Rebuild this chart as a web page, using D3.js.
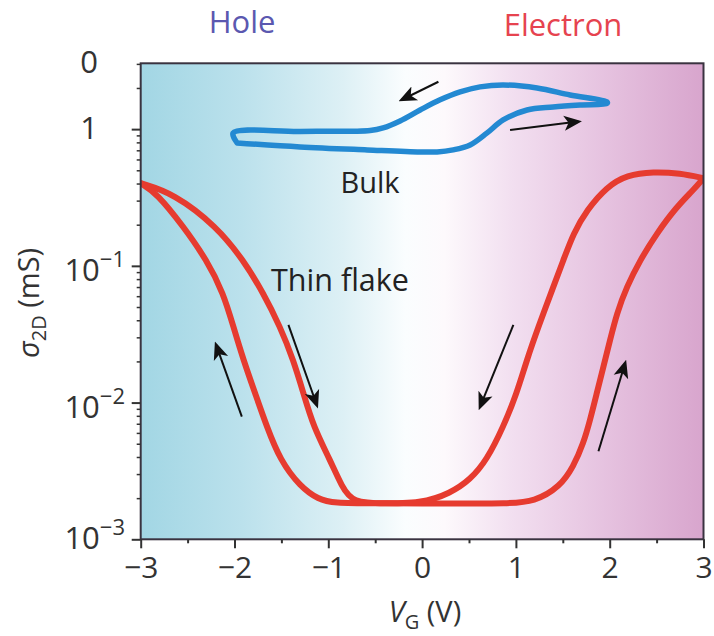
<!DOCTYPE html>
<html>
<head>
<meta charset="utf-8">
<script src="https://cdn.jsdelivr.net/npm/d3@7"></script>
<style>
  html, body { margin: 0; padding: 0; background: #ffffff; }
  svg { display: block; }
  text { font-family: "Open Sans", "Noto Sans", sans-serif; }
</style>
</head>
<body>
<svg id="chart" width="714" height="636"></svg>
<script>
// Gate voltage sweep of the thin flake, -3 V -> +3 V (forward)
const flakeForwardV = [-3.000, -2.651, -2.189, -1.905, -1.692, -1.514, -1.372, -1.265, -1.159, -0.981, -0.856, -0.740,
  -0.400, 0.000, 0.400, 0.900, 1.200, 1.471, 1.613, 1.720, 1.791, 1.862, 1.933, 2.004, 2.076, 2.182, 2.324, 2.502, 2.715, 2.893, 3.000];
const flakeForwardS = [0.402, 0.340, 0.194, 0.110, 0.0631, 0.0359, 0.0205, 0.0117, 0.00667, 0.00380, 0.00243, 0.00185,
  0.00183, 0.00183, 0.00183, 0.00183, 0.00188, 0.00243, 0.00340, 0.00504, 0.00746, 0.0117, 0.0183, 0.0287, 0.0450, 0.0705, 0.110, 0.173, 0.271, 0.359, 0.438];
// Reverse sweep, +3 V -> -3 V
const flakeReverseV = [3.000, 2.751, 2.466, 2.182, 1.969, 1.756, 1.613, 1.506, 1.400, 1.240, 1.116, 1.010, 0.867, 0.690, 0.512, 0.299,
  0.000, -0.500, -0.950, -1.100, -1.301, -1.514, -1.656, -1.780, -1.905, -2.012, -2.118, -2.295, -2.545, -2.829, -3.000];
const flakeReverseS = [0.438, 0.475, 0.489, 0.462, 0.379, 0.256, 0.173, 0.110, 0.0705, 0.0359, 0.0205, 0.0117, 0.00667, 0.00380, 0.00272, 0.00217,
  0.00183, 0.00183, 0.00184, 0.00195, 0.00243, 0.00380, 0.00667, 0.0117, 0.0205, 0.0359, 0.0631, 0.110, 0.194, 0.340, 0.402];

// Bulk crystal, forward sweep -2 V -> +2 V
const bulkForwardV = [-1.972, -1.301, -0.586, -0.021, 0.160, 0.330, 0.512, 0.693, 0.864, 1.119, 1.397, 1.684, 1.972];
const bulkForwardS = [0.793, 0.741, 0.705, 0.681, 0.681, 0.705, 0.766, 0.938, 1.167, 1.380, 1.452, 1.503, 1.542];
// Bulk crystal, reverse sweep +2 V -> -2 V
const bulkReverseV = [1.972, 1.578, 1.226, 0.864, 0.618, 0.405, 0.192, -0.021, -0.235, -0.416, -0.554, -1.301, -2.015];
const bulkReverseS = [1.581, 1.778, 2.000, 2.104, 2.037, 1.871, 1.637, 1.380, 1.148, 1.021, 0.977, 0.962, 0.938];

// Sweep-direction arrows: [tail V, tail σ, head V, head σ]
const sweepArrows = [
  [0.174, 2.22, -0.216, 1.64],
  [0.938, 0.986, 1.666, 1.135],
  [-1.922, 0.0079, -2.196, 0.0264],
  [-1.425, 0.037, -1.123, 0.0096],
  [0.973, 0.037, 0.618, 0.0093],
  [1.880, 0.0044, 2.164, 0.0194]
];

// Axis ticks
const xTicks = [-3, -2, -1, 0, 1, 2, 3];
const xMinorTicks = [-2.5, -1.5, -0.5, 0.5, 1.5, 2.5];
const yMajorTicks = [0.001, 0.01, 0.1];
const yMajorExponents = ["\u22123", "\u22122", "\u22121"];
const yPlainTicks = [1];
const yPlainLabels = ["1"];
const yMax = 3.03;

const svg = d3.select("#chart");
const plot = { left: 140.7, right: 703.5, top: 63.3, bottom: 539.3 };

const x = d3.scaleLinear().domain([-3, 3]).range([plot.left, plot.right]);
const y = d3.scaleLog().domain([0.001, yMax]).range([plot.bottom, plot.top]);

// Background: hole-doped (cyan) to electron-doped (magenta) shading
const defs = svg.append("defs");
const grad = defs.append("linearGradient").attr("id", "bg").attr("x1", "0").attr("x2", "1").attr("y1", "0").attr("y2", "0");
[[0, "#a2d6e4"], [0.18, "#bbe1ec"], [0.36, "#ddf0f5"], [0.47, "#fafdfe"], [0.54, "#fdf9fc"], [0.66, "#f2dff0"], [0.82, "#e6c3e0"], [1, "#d8a5cd"]]
  .forEach(([o, c]) => grad.append("stop").attr("offset", o).attr("stop-color", c));

svg.append("rect")
  .attr("x", plot.left).attr("y", plot.top)
  .attr("width", plot.right - plot.left).attr("height", plot.bottom - plot.top)
  .attr("fill", "url(#bg)");

defs.append("clipPath").attr("id", "clip").append("rect")
  .attr("x", plot.left).attr("y", plot.top)
  .attr("width", plot.right - plot.left).attr("height", plot.bottom - plot.top);

const smooth = d3.line().x(d => x(d[0])).y(d => y(d[1])).curve(d3.curveBasis);
const through = d3.line().x(d => x(d[0])).y(d => y(d[1])).curve(d3.curveCatmullRom.alpha(0.5));
const g = svg.append("g").attr("clip-path", "url(#clip)");

// Thin flake hysteresis loop, one path per sweep direction
const flakeSweeps = [
  flakeForwardV.map((v, i) => [v, flakeForwardS[i]]),
  flakeReverseV.map((v, i) => [v, flakeReverseS[i]])
];
g.selectAll("path.flake").data(flakeSweeps).join("path").attr("class", "flake")
  .attr("d", smooth)
  .attr("fill", "none").attr("stroke", "#e63b2f").attr("stroke-width", 6)
  .attr("stroke-linejoin", "round").attr("stroke-linecap", "round");

// Bulk hysteresis loop
const bulkLoop = bulkForwardV.map((v, i) => [v, bulkForwardS[i]])
  .concat(bulkReverseV.map((v, i) => [v, bulkReverseS[i]]))
  .concat([[bulkForwardV[0], bulkForwardS[0]]]);
g.append("path").datum(bulkLoop).attr("d", through)
  .attr("fill", "none").attr("stroke", "#2389d2").attr("stroke-width", 5.5)
  .attr("stroke-linejoin", "round").attr("stroke-linecap", "round");

// Arrows
defs.append("marker").attr("id", "head").attr("viewBox", "0 0 10 10")
  .attr("refX", 8).attr("refY", 5).attr("markerWidth", 9).attr("markerHeight", 9)
  .attr("markerUnits", "strokeWidth").attr("orient", "auto")
  .append("path").attr("d", "M0,0.8 L10,5 L0,9.2 L2.5,5 Z").attr("fill", "#111");

svg.append("g").selectAll("line").data(sweepArrows).join("line")
  .attr("x1", d => x(d[0])).attr("y1", d => y(d[1]))
  .attr("x2", d => x(d[2])).attr("y2", d => y(d[3]))
  .attr("stroke", "#111").attr("stroke-width", 2)
  .attr("marker-end", "url(#head)");

// Frame
svg.append("rect")
  .attr("x", plot.left).attr("y", plot.top)
  .attr("width", plot.right - plot.left).attr("height", plot.bottom - plot.top)
  .attr("fill", "none").attr("stroke", "#3a3340").attr("stroke-width", 2);

// X axis
const xAxis = svg.append("g").attr("transform", `translate(0,${plot.bottom})`)
  .call(d3.axisBottom(x).tickValues(xTicks).tickSize(9).tickFormat(d => d < 0 ? "\u2212" + Math.abs(d) : String(d)));
xAxis.select(".domain").remove();
xAxis.selectAll(".tick line").attr("stroke", "#333").attr("stroke-width", 2);
xAxis.selectAll(".tick text").attr("font-size", 30).attr("fill", "#333").attr("dy", "0.95em").attr("y", 10);

const xMinor = svg.append("g").attr("transform", `translate(0,${plot.bottom})`)
  .call(d3.axisBottom(x).tickValues(xMinorTicks).tickSize(4).tickFormat(""));
xMinor.select(".domain").remove();
xMinor.selectAll(".tick line").attr("stroke", "#333").attr("stroke-width", 2);

// Y axis
const yMinorTicks = [];
[0.001, 0.01, 0.1, 1].forEach(dec => { for (let k = 2; k <= 9; k++) { const v = dec * k; if (v < yMax) yMinorTicks.push(v); } });

const yAxis = svg.append("g").attr("transform", `translate(${plot.left},0)`)
  .call(d3.axisLeft(y).tickValues(yMajorTicks.concat(yPlainTicks)).tickSize(9).tickFormat(""));
yAxis.select(".domain").remove();
yAxis.selectAll(".tick line").attr("stroke", "#333").attr("stroke-width", 2);

const yMinor = svg.append("g").attr("transform", `translate(${plot.left},0)`)
  .call(d3.axisLeft(y).tickValues(yMinorTicks).tickSize(4).tickFormat(""));
yMinor.select(".domain").remove();
yMinor.selectAll(".tick line").attr("stroke", "#333").attr("stroke-width", 1.5);

// Power-of-ten labels (the lowest one sits a little higher to clear the x labels)
const yLab = svg.append("g");
yMajorTicks.forEach((v, i) => {
  const t = yLab.append("text").attr("x", 125).attr("y", y(v) + (i === 0 ? 10 : 15))
    .attr("text-anchor", "end").attr("fill", "#333").attr("font-size", 31);
  t.append("tspan").text("10");
  t.append("tspan").attr("font-size", 22).attr("dy", -14).text(yMajorExponents[i]);
});
yPlainTicks.forEach((v, i) => {
  yLab.append("text").attr("x", 98).attr("y", y(v) + 10)
    .attr("text-anchor", "end").attr("fill", "#333").attr("font-size", 31).text(yPlainLabels[i]);
});
yLab.append("text").attr("x", 98).attr("y", y(yMax) + 10)
  .attr("text-anchor", "end").attr("fill", "#333").attr("font-size", 31).text("0");

// Axis titles
const xt = svg.append("text").attr("x", 425).attr("y", 622).attr("text-anchor", "middle")
  .attr("fill", "#333").attr("font-size", 29);
xt.append("tspan").attr("font-style", "italic").text("V");
xt.append("tspan").attr("font-size", 20).attr("dy", 7).text("G");
xt.append("tspan").attr("dy", -7).text(" (V)");

const yt = svg.append("text").attr("transform", "translate(39,303) rotate(-90)").attr("text-anchor", "middle")
  .attr("fill", "#333").attr("font-size", 29);
yt.append("tspan").attr("font-style", "italic").text("\u03c3");
yt.append("tspan").attr("font-size", 20).attr("dy", 7).text("2D");
yt.append("tspan").attr("dy", -7).text(" (mS)");

// Doping-regime labels
svg.append("text").attr("x", 242).attr("y", 33).attr("text-anchor", "middle")
  .attr("fill", "#5b58b0").attr("font-size", 31).text("Hole");
svg.append("text").attr("x", 563).attr("y", 36).attr("text-anchor", "middle")
  .attr("fill", "#e6434f").attr("font-size", 31).text("Electron");

// Curve labels
svg.append("text").attr("x", 370).attr("y", 193).attr("text-anchor", "middle")
  .attr("fill", "#222").attr("font-size", 29).text("Bulk");
svg.append("text").attr("x", 340).attr("y", 291).attr("text-anchor", "middle")
  .attr("fill", "#222").attr("font-size", 30.5).text("Thin flake");
</script>
</body>
</html>
